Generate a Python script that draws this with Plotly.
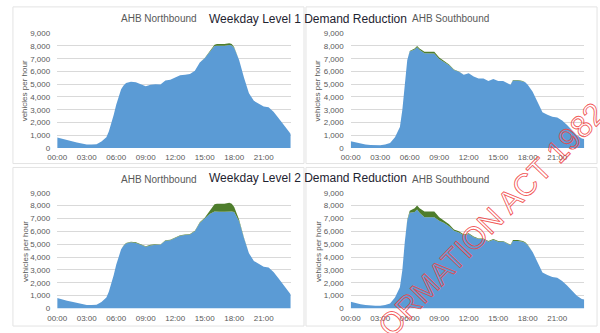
import plotly.graph_objects as go

# Time of day (15/30-minute sampling, hours as text)
times = ["00:00", "00:30", "01:00", "01:30", "02:00", "02:30", "03:00", "03:30",
         "04:00", "04:30", "05:00", "05:15", "05:30", "05:45", "06:00", "06:30",
         "06:45", "07:00", "07:30", "08:00", "08:30", "09:00", "09:30", "10:00",
         "10:30", "11:00", "11:30", "12:00", "12:30", "13:00", "13:30", "14:00",
         "14:30", "15:00", "15:30", "16:00", "16:15", "16:30", "17:00", "17:30",
         "17:45", "18:00", "18:30", "19:00", "19:30", "20:00", "20:30", "21:00",
         "21:30", "22:00", "22:30", "23:00", "23:30", "23:45"]

# Base weekday demand (vehicles per hour)
nb_demand = [820, 700, 600, 520, 430, 340, 280, 270,
             300, 500, 850, 1300, 1900, 2600, 3400, 4600,
             4900, 5100, 5200, 5150, 5000, 4850, 4950, 5000,
             4980, 5300, 5350, 5550, 5700, 5750, 5800, 6050,
             6700, 7050, 7600, 8100, 8150, 8150, 8150, 8220,
             8150, 7900, 6900, 5500, 4300, 3700, 3450, 3250,
             3200, 2850, 2350, 1800, 1350, 1100]

sb_demand = [520, 420, 330, 280, 240, 220, 220, 280,
             400, 850, 1650, 3000, 5200, 6900, 7600, 7800,
             8000, 7800, 7550, 7550, 7550, 7100, 6850, 6550,
             6150, 6000, 5750, 5850, 5600, 5450, 5450, 5250,
             5400, 5250, 5250, 5050, 4950, 5330, 5330, 5250,
             5150, 4950, 4400, 3600, 2800, 2600, 2450, 2400,
             2150, 1800, 1400, 1000, 750, 700]

# Demand reduction for each level (vehicles per hour)
nb_level1_cut = [0, 0, 0, 0, 0, 0, 0, 0,
                 0, 0, 0, 0, 0, 0, 0, 0,
                 0, 0, 0, 0, 0, 0, 0, 0,
                 0, 0, 0, 0, 0, 0, 0, 0,
                 0, 20, 60, 110, 130, 130, 130, 140,
                 120, 70, 10, 0, 0, 0, 0, 0,
                 0, 0, 0, 0, 0, 0]

nb_level2_cut = [0, 0, 0, 0, 0, 0, 0, 0,
                 0, 0, 0, 0, 0, 0, 0, 0,
                 20, 40, 50, 50, 50, 40, 40, 40,
                 30, 40, 40, 50, 50, 40, 40, 40,
                 50, 60, 250, 550, 620, 620, 620, 660,
                 600, 400, 120, 30, 0, 0, 0, 0,
                 0, 0, 0, 0, 0, 0]

sb_level1_cut = [0, 0, 0, 0, 0, 0, 0, 0,
                 0, 0, 0, 0, 0, 0, 30, 80,
                 100, 100, 120, 150, 150, 120, 100, 60,
                 30, 20, 0, 0, 0, 0, 0, 0,
                 0, 0, 0, 0, 0, 30, 30, 30,
                 0, 0, 0, 0, 0, 0, 0, 0,
                 0, 0, 0, 0, 0, 0]

sb_level2_cut = [0, 0, 0, 0, 0, 0, 0, 0,
                 0, 0, 0, 0, 0, 50, 150, 300,
                 300, 350, 450, 450, 450, 280, 200, 150,
                 100, 80, 60, 60, 50, 50, 50, 50,
                 60, 50, 40, 30, 30, 80, 80, 60,
                 50, 30, 0, 0, 0, 0, 0, 0,
                 0, 0, 0, 0, 0, 0]

tick_hours = [0, 3, 6, 9, 12, 15, 18, 21]
tick_text = ["00:00", "03:00", "06:00", "09:00", "12:00", "15:00", "18:00", "21:00"]

BLUE = "#5b9bd5"
GREEN = "#4e7d2c"
GRID = "#d9d9d9"
TXT = "#595959"
W, H = 600, 333


def hours(t):
    h, m = t.split(":")
    return int(h) + int(m) / 60


x_hours = [hours(t) for t in times]

panels = [
    # (demand, cut, x pixel range, y pixel of 0 and 9000)
    (nb_demand, nb_level1_cut, (48, 285.5), (148, 30)),
    (sb_demand, sb_level1_cut, (346.5, 584), (148, 30)),
    (nb_demand, nb_level2_cut, (48, 285.5), (313, 194)),
    (sb_demand, sb_level2_cut, (346.5, 584), (313, 194)),
]

fig = go.Figure()
layout_axes = {}
for i, (demand, cut, (x0, x1), (y0, y9)) in enumerate(panels, start=1):
    xa = "x" if i == 1 else f"x{i}"
    ya = "y" if i == 1 else f"y{i}"
    reduced = [d - c for d, c in zip(demand, cut)]
    fig.add_trace(go.Scatter(
        x=x_hours, y=reduced, xaxis=xa, yaxis=ya, mode="lines",
        line=dict(width=0, color=BLUE), fillcolor=BLUE,
        stackgroup=f"s{i}", showlegend=False, hoverinfo="skip"))
    fig.add_trace(go.Scatter(
        x=x_hours, y=cut, xaxis=xa, yaxis=ya, mode="lines",
        line=dict(width=0, color=GREEN), fillcolor=GREEN,
        stackgroup=f"s{i}", showlegend=False, hoverinfo="skip"))
    xkey = "xaxis" if i == 1 else f"xaxis{i}"
    ykey = "yaxis" if i == 1 else f"yaxis{i}"
    layout_axes[xkey] = dict(
        domain=[x0 / W, x1 / W], range=[0, 23.75], anchor=ya,
        tickvals=tick_hours, ticktext=tick_text, showgrid=False,
        zeroline=False, showline=False, ticks="",
        tickfont=dict(family="Liberation Sans", size=8, color=TXT),
        ticklabelstandoff=3)
    layout_axes[ykey] = dict(
        domain=[1 - y0 / H, 1 - y9 / H], range=[0, 9000], anchor=xa,
        dtick=1000, tickformat=",d", showgrid=True, gridcolor=GRID,
        gridwidth=1, zeroline=False, showline=False, ticks="",
        tickfont=dict(family="Liberation Sans", size=8, color=TXT),
        ticklabelstandoff=6)

fig.update_layout(**layout_axes)


def label(text, cx, cy, size, color, angle=0, family="Liberation Sans"):
    return dict(text=text, x=cx / W, y=1 - cy / H, xref="paper", yref="paper",
                xanchor="center", yanchor="middle", showarrow=False,
                textangle=angle, font=dict(family=family, size=size, color=color))


annotations = []
# Panel sub-titles
for text, cx, cy in [("AHB Northbound", 152, 15), ("AHB Southbound", 448, 15),
                     ("AHB Northbound", 152, 180), ("AHB Southbound", 448, 180)]:
    annotations.append(label(text, cx, cy, 10, TXT))
# Main headings
for text, cx, cy in [("Weekday Level 1 Demand Reduction", 303, 15),
                     ("Weekday Level 2 Demand Reduction", 303, 179)]:
    annotations.append(label(text, cx, cy, 12, "#1e2330"))
# Y-axis titles
for cx, cy in [(15, 89), (313, 89), (15, 254), (313, 254)]:
    annotations.append(label("vehicles per hour", cx, cy, 8, TXT, angle=-90))
# Stamp across the lower right
annotations.append(label("ORMATION ACT 1982", 490, 221, 31,
                         "rgba(240,70,70,0.9)", angle=-46))

shapes = []
for (px0, py0, px1, py1) in [(3, 3, 299, 164), (301, 3, 597, 164),
                             (3, 168, 299, 331), (301, 168, 597, 331)]:
    shapes.append(dict(type="rect", xref="paper", yref="paper",
                       x0=px0 / W, x1=px1 / W, y0=1 - py1 / H, y1=1 - py0 / H,
                       line=dict(color="#e3e3e3", width=1), layer="below"))

fig.update_layout(
    width=W, height=H, margin=dict(l=0, r=0, t=0, b=0),
    paper_bgcolor="white", plot_bgcolor="white",
    annotations=annotations, shapes=shapes, showlegend=False)

# Draw the stamp text as an outline rather than solid letters
outline_js = """
document.querySelectorAll('.annotation-text').forEach(function (el) {
  if (el.textContent.indexOf('1982') >= 0) {
    el.style.fill = 'none';
    el.style.stroke = 'rgba(240,70,70,0.9)';
    el.style.strokeWidth = '0.9px';
  }
});
"""

fig.write_html("out.html", post_script=outline_js)
